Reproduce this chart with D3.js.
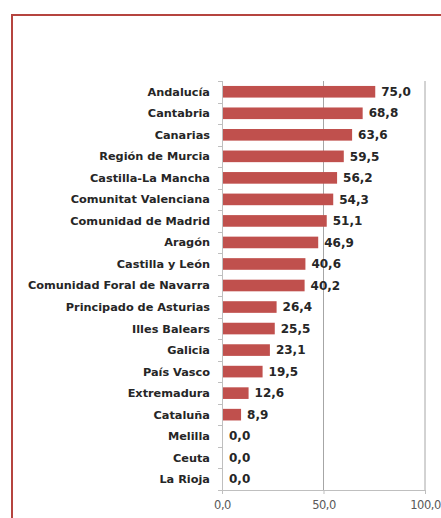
<!DOCTYPE html>
<html>
<head>
<meta charset="utf-8">
<script src="https://cdn.jsdelivr.net/npm/d3@7"></script>
<style>
  body { margin: 0; background: #fff; }
  svg { display: block; }
</style>
</head>
<body>
<div class="chart"></div>
<script>
// data
const regions = ['Andalucía', 'Cantabria', 'Canarias', 'Región de Murcia', 'Castilla-La Mancha',
    'Comunitat Valenciana', 'Comunidad de Madrid', 'Aragón', 'Castilla y León', 'Comunidad Foral de Navarra',
    'Principado de Asturias', 'Illes Balears', 'Galicia', 'País Vasco', 'Extremadura', 'Cataluña',
    'Melilla', 'Ceuta', 'La Rioja'];
const values = [75.0, 68.8, 63.6, 59.5, 56.2, 54.3, 51.1, 46.9, 40.6, 40.2,
    26.4, 25.5, 23.1, 19.5, 12.6, 8.9, 0.0, 0.0, 0.0];
const ticks = [0, 50, 100];

const rows = regions.map((r, i) => ({ name: r, value: values[i] }));
const fmt = v => v.toFixed(1).replace('.', ',');

let width = 441, height = 518;
let margin = {top: 81, left: 222, right: 16, bottom: 28};

let svg = d3.select('.chart')
    .append('svg')
    .attr('width', width)
    .attr('height', height);

// frame
svg.append('rect')
    .attr('x', 12)
    .attr('y', 15)
    .attr('width', 460)
    .attr('height', 560)
    .attr('fill', 'none')
    .attr('stroke', '#b5443f')
    .attr('stroke-width', 2);

let x = d3.scaleLinear()
    .domain([0, 100])
    .range([margin.left, 425]);

let y = d3.scaleBand()
    .domain(regions)
    .range([margin.top, 490])
    .paddingInner(0.46)
    .paddingOuter(0.23);

// gridlines
svg.append('g')
    .selectAll('line')
    .data(ticks.slice(1))
    .enter()
    .append('line')
    .attr('x1', d => x(d))
    .attr('x2', d => x(d))
    .attr('y1', margin.top)
    .attr('y2', 490)
    .attr('stroke', '#a6a6a6')
    .attr('stroke-width', 1);

// bottom axis
let xAxis = svg.append('g')
    .attr('transform', 'translate(0,490)')
    .call(d3.axisBottom(x).tickValues(ticks).tickSize(4).tickSizeOuter(0).tickFormat(fmt));
xAxis.select('.domain').attr('stroke', '#bfbfbf');
xAxis.selectAll('.tick line').attr('stroke', '#bfbfbf');
xAxis.selectAll('text')
    .attr('fill', '#595959')
    .attr('dy', '1.05em')
    .style('font-family', 'DejaVu Sans')
    .style('font-size', '11.5px')
    .style('letter-spacing', '-0.5px');

// left axis with ticks at band edges
let edges = regions.map(r => y(r) - y.step() * y.paddingInner() / 2).concat([490]);
svg.append('line')
    .attr('x1', x(0) + 0.5).attr('x2', x(0) + 0.5)
    .attr('y1', margin.top).attr('y2', 490)
    .attr('stroke', '#bfbfbf');
svg.append('g')
    .selectAll('line')
    .data(edges)
    .enter()
    .append('line')
    .attr('x1', x(0) - 4).attr('x2', x(0))
    .attr('y1', d => Math.round(d) + 0.5).attr('y2', d => Math.round(d) + 0.5)
    .attr('stroke', '#bfbfbf');

// bars
svg.append('g')
    .selectAll('rect')
    .data(rows)
    .enter()
    .append('rect')
    .attr('x', x(0) + 1)
    .attr('y', d => y(d.name))
    .attr('width', d => Math.max(0, x(d.value) - x(0)))
    .attr('height', y.bandwidth())
    .attr('fill', '#c0504d');

// category labels
svg.append('g')
    .selectAll('text')
    .data(rows)
    .enter()
    .append('text')
    .attr('x', 210)
    .attr('y', d => y(d.name) + y.bandwidth() / 2)
    .attr('dy', '0.35em')
    .attr('text-anchor', 'end')
    .style('font-family', 'DejaVu Sans')
    .style('font-weight', 'bold')
    .style('font-size', '11.3px')
    .attr('fill', '#262626')
    .text(d => d.name);

// value labels
svg.append('g')
    .selectAll('text')
    .data(rows)
    .enter()
    .append('text')
    .attr('x', d => x(d.value) + 7)
    .attr('y', d => y(d.name) + y.bandwidth() / 2)
    .attr('dy', '0.35em')
    .style('font-family', 'DejaVu Sans')
    .style('font-weight', 'bold')
    .style('font-size', '12px')
    .attr('fill', '#262626')
    .text(d => fmt(d.value));
</script>
</body>
</html>
